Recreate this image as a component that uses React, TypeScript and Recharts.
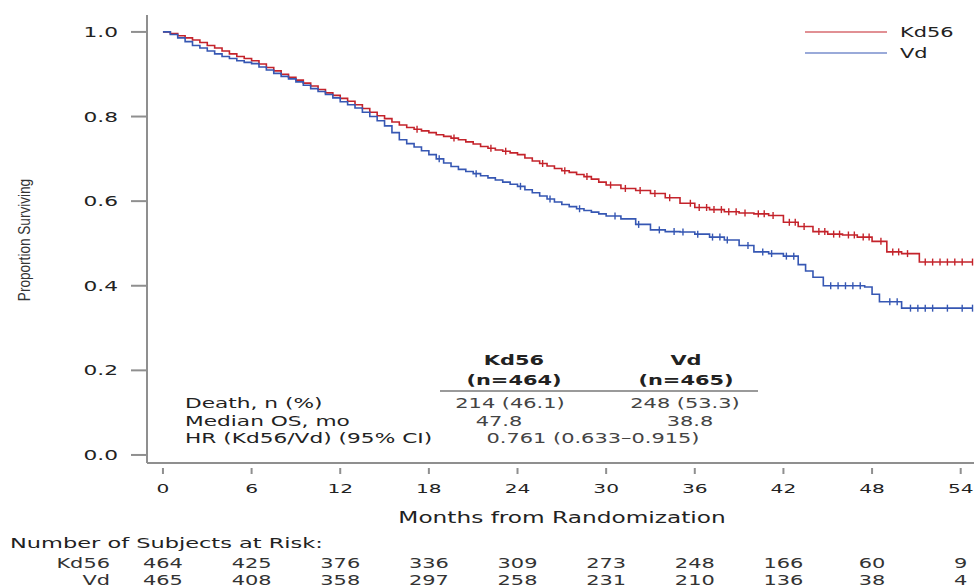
import { LineChart, Line, XAxis, YAxis, Legend, Customized } from 'recharts';

const FONT = '"DejaVu Sans", Verdana, sans-serif';
const SX = 1.55; // the reference type is drawn wide
const AXIS = '#8f8f8f';
const RED = '#c4232b';
const BLUE = '#3657b3';

const months = [0, 6, 12, 18, 24, 30, 36, 42, 48, 54];
const yTicks = [0, 0.2, 0.4, 0.6, 0.8, 1.0];
const kdRisk = [464, 425, 376, 336, 309, 273, 248, 166, 60, 9];
const vdRisk = [465, 408, 358, 297, 258, 231, 210, 136, 38, 4];

// Kd56 survival (event times, months)
const kdTime = [
  0, 0.5, 1, 1.5, 2, 2.5, 3, 3.5, 4, 4.5, 5, 5.5, 6, 6.5, 7, 7.5, 8, 8.5, 9, 9.5, 10, 10.5, 11, 11.5,
  12, 12.5, 13, 13.5, 14, 14.5, 15, 15.5, 16, 16.5, 17, 17.5, 18, 18.5, 19, 19.5, 20, 20.5, 21, 21.5,
  22, 22.5, 23, 23.5, 24, 24.5, 25, 25.5, 26, 26.5, 27, 27.5, 28, 28.5, 29, 29.5, 30, 31, 32, 33, 34,
  35, 36, 37, 38, 39, 40, 41, 42, 43, 44, 45, 46, 47, 48, 49, 50, 51.2,
];
const kdSurv = [
  1.0, 0.996, 0.991, 0.986, 0.981, 0.975, 0.968, 0.962, 0.955, 0.948, 0.942, 0.937, 0.932, 0.924, 0.916,
  0.908, 0.9, 0.893, 0.886, 0.879, 0.872, 0.864, 0.856, 0.85, 0.843, 0.836, 0.828, 0.819, 0.81, 0.802,
  0.795, 0.787, 0.78, 0.774, 0.77, 0.766, 0.762, 0.757, 0.753, 0.749, 0.745, 0.74, 0.735, 0.729, 0.725,
  0.721, 0.718, 0.714, 0.71, 0.702, 0.695, 0.689, 0.683, 0.677, 0.672, 0.668, 0.663, 0.658, 0.652, 0.645,
  0.638, 0.63, 0.625, 0.618, 0.608, 0.595, 0.585, 0.58, 0.575, 0.572, 0.57, 0.566, 0.55, 0.54, 0.528,
  0.522, 0.52, 0.515, 0.505, 0.48, 0.476, 0.456,
];
const kdCensor = [
  17.2, 19.7, 22.2, 23.2, 25.7, 27.2, 28.7, 30.3, 31.3, 32.3, 33.3, 34.3, 35.7, 36.3, 36.8, 37.3, 37.8,
  38.3, 38.8, 39.4, 40.3, 40.7, 41.3, 42.4, 42.8, 43.4, 44.4, 44.8, 45.4, 45.8, 46.4, 46.8, 47.4, 47.8,
  48.6, 49.4, 49.8, 50.4, 51.6, 52.1, 52.6, 53.1, 53.6, 54.1, 54.8,
];

// Vd survival
const vdTime = [
  0, 0.5, 1, 1.5, 2, 2.5, 3, 3.5, 4, 4.5, 5, 5.5, 6, 6.5, 7, 7.5, 8, 8.5, 9, 9.5, 10, 10.5, 11, 11.5,
  12, 12.5, 13, 13.5, 14, 14.5, 15, 15.5, 16, 16.5, 17, 17.5, 18, 18.5, 19, 19.5, 20, 20.5, 21, 21.5,
  22, 22.5, 23, 23.5, 24, 24.5, 25, 25.5, 26, 26.5, 27, 27.5, 28, 28.5, 29, 29.5, 30, 31, 32, 33, 34,
  35, 36, 37, 38, 39, 40, 41, 42, 43, 43.5, 44, 44.7, 47.5, 48, 48.5, 50,
];
const vdSurv = [
  1.0, 0.994, 0.986, 0.977, 0.968, 0.962, 0.955, 0.948, 0.942, 0.937, 0.932, 0.928, 0.925, 0.917, 0.91,
  0.902, 0.895, 0.889, 0.882, 0.874, 0.866, 0.859, 0.852, 0.844, 0.835, 0.828, 0.82, 0.81, 0.8, 0.79,
  0.778, 0.762, 0.745, 0.736, 0.728, 0.719, 0.71, 0.7, 0.69, 0.682, 0.675, 0.67, 0.665, 0.66, 0.655,
  0.65, 0.645, 0.64, 0.635, 0.627, 0.62, 0.612, 0.605, 0.598, 0.592, 0.587, 0.582, 0.578, 0.574, 0.57,
  0.565, 0.558, 0.545, 0.532, 0.528, 0.527, 0.522, 0.515, 0.508, 0.495, 0.48, 0.476, 0.47, 0.45, 0.435,
  0.42, 0.4, 0.397, 0.38, 0.362, 0.347,
];
const vdCensor = [
  18.7, 21.2, 24.2, 26.2, 28.2, 30.6, 32.2, 33.6, 34.6, 35.2, 36.2, 37.2, 37.7, 38.2, 39.6, 40.6, 41.2,
  42.2, 42.7, 45.2, 45.7, 46.2, 46.7, 47.2, 49.2, 49.7, 50.6, 51.1, 51.6, 52.1, 53.1, 54.1, 54.8,
];

type Pt = { t: number; s: number; c: boolean };

const buildCurve = (times: number[], surv: number[], censor: number[]): Pt[] => {
  const stepAt = (t: number) => {
    let v = surv[0];
    times.forEach((tt, i) => {
      if (tt <= t) v = surv[i];
    });
    return v;
  };
  const pts: Pt[] = times.map((t, i) => ({ t, s: surv[i], c: false }));
  censor.forEach((t) => pts.push({ t, s: stepAt(t), c: true }));
  return pts.sort((a, b) => a.t - b.t);
};

const kdData = buildCurve(kdTime, kdSurv, kdCensor);
const vdData = buildCurve(vdTime, vdSurv, vdCensor);

const W = ({ x, y, a = 'start', fs = 14, fw = 400, fill = '#222', sx = SX, children }: any) => (
  <text
    transform={`translate(${x} ${y}) scale(${sx} 1)`}
    textAnchor={a}
    dominantBaseline="central"
    fontFamily={FONT}
    fontSize={fs}
    fontWeight={fw}
    fill={fill}
  >
    {children}
  </text>
);

const censorDot = (color: string) => (props: any) => {
  const { cx, cy, payload, index } = props;
  if (!payload || !payload.c) return <g key={`n-${index}`} />;
  return <line key={`c-${index}`} x1={cx} x2={cx} y1={cy - 3.5} y2={cy + 3.5} stroke={color} strokeWidth={1.4} />;
};

const XTick = ({ x, y, payload }: any) => {
  const i = months.indexOf(payload.value);
  return (
    <g>
      <line x1={x} x2={x} y1={y + 5} y2={y + 11} stroke={AXIS} strokeWidth={2} />
      <W x={x} y={y + 25} a="middle" fs={13}>{payload.value}</W>
      <W x={x} y={y + 100} a="middle" fs={13.5} fill="#333">{kdRisk[i]}</W>
      <W x={x} y={y + 117} a="middle" fs={13.5} fill="#333">{vdRisk[i]}</W>
    </g>
  );
};

const YTick = ({ x, y, payload }: any) => (
  <W x={x} y={y} a="end" fs={14}>{payload.value.toFixed(1)}</W>
);

const LegendBox = ({ payload }: any) => (
  <svg width={174} height={50}>
    {(payload || []).map((p: any, i: number) => (
      <g key={p.value}>
        <line x1={5} x2={87} y1={12 + i * 21} y2={12 + i * 21} stroke={p.color} strokeWidth={1.2} />
        <W x={100} y={12 + i * 21} fs={13.5}>{p.value}</W>
      </g>
    ))}
  </svg>
);

const Notes = () => (
  <g>
    <text
      transform="translate(25 240) rotate(-90) scale(0.85 1)"
      textAnchor="middle"
      dominantBaseline="central"
      fontFamily='"Liberation Sans", Arial, sans-serif'
      fontSize={16}
      fill="#333"
    >
      Proportion Surviving
    </text>

    <W x={514} y={360} a="middle" fs={13.5} fw={700}>Kd56</W>
    <W x={514} y={380} a="middle" fs={13.5} fw={700}>(n=464)</W>
    <W x={686} y={360} a="middle" fs={13.5} fw={700}>Vd</W>
    <W x={686} y={380} a="middle" fs={13.5} fw={700}>(n=465)</W>
    <line x1={440} x2={758} y1={391} y2={391} stroke="#9a9a9a" strokeWidth={2} />

    <W x={185} y={403} fs={14}>Death, n (%)</W>
    <W x={185} y={421} fs={14}>Median OS, mo</W>
    <W x={185} y={438} fs={14}>HR (Kd56/Vd) (95% CI)</W>
    <W x={510} y={403} a="middle" fs={13.5} fill="#444">214 (46.1)</W>
    <W x={685} y={403} a="middle" fs={13.5} fill="#444">248 (53.3)</W>
    <W x={499} y={421} a="middle" fs={13.5} fill="#444">47.8</W>
    <W x={690} y={421} a="middle" fs={13.5} fill="#444">38.8</W>
    <W x={593} y={438} a="middle" fs={13.5} fill="#444">0.761 (0.633–0.915)</W>

    <W x={562} y={518} a="middle" fs={15}>Months from Randomization</W>
    <W x={10} y={543} fs={14.5}>Number of Subjects at Risk:</W>
    <W x={110} y={563} a="end" fs={13.5} fill="#333">Kd56</W>
    <W x={110} y={580} a="end" fs={13.5} fill="#333">Vd</W>
  </g>
);

export default function App() {
  return (
    <div style={{ position: 'absolute', left: 0, top: 0, width: 974, height: 588, background: '#fff' }}>
      <LineChart width={974} height={588} margin={{ top: 15, right: 0, bottom: 95, left: 87 }}>
        <XAxis
          dataKey="t"
          type="number"
          domain={[-1.08, 54.9]}
          allowDataOverflow
          ticks={months}
          tickSize={0}
          tickMargin={0}
          tickLine={false}
          tick={<XTick />}
          height={30}
          axisLine={{ stroke: AXIS, strokeWidth: 2 }}
        />
        <YAxis
          type="number"
          domain={[-0.019, 1.04]}
          allowDataOverflow
          ticks={yTicks}
          width={60}
          tickSize={16}
          tickMargin={13}
          tickLine={{ stroke: AXIS, strokeWidth: 2 }}
          tick={<YTick />}
          axisLine={{ stroke: AXIS, strokeWidth: 2 }}
        />
        <Legend
          layout="vertical"
          align="center"
          verticalAlign="middle"
          wrapperStyle={{ top: 20, left: 800, width: 174 }}
          content={<LegendBox />}
        />
        <Line
          data={kdData}
          dataKey="s"
          name="Kd56"
          type="stepAfter"
          stroke={RED}
          strokeWidth={1.6}
          dot={censorDot(RED)}
          activeDot={false}
          isAnimationActive={false}
        />
        <Line
          data={vdData}
          dataKey="s"
          name="Vd"
          type="stepAfter"
          stroke={BLUE}
          strokeWidth={1.6}
          dot={censorDot(BLUE)}
          activeDot={false}
          isAnimationActive={false}
        />
        <Customized component={Notes} />
      </LineChart>
    </div>
  );
}
